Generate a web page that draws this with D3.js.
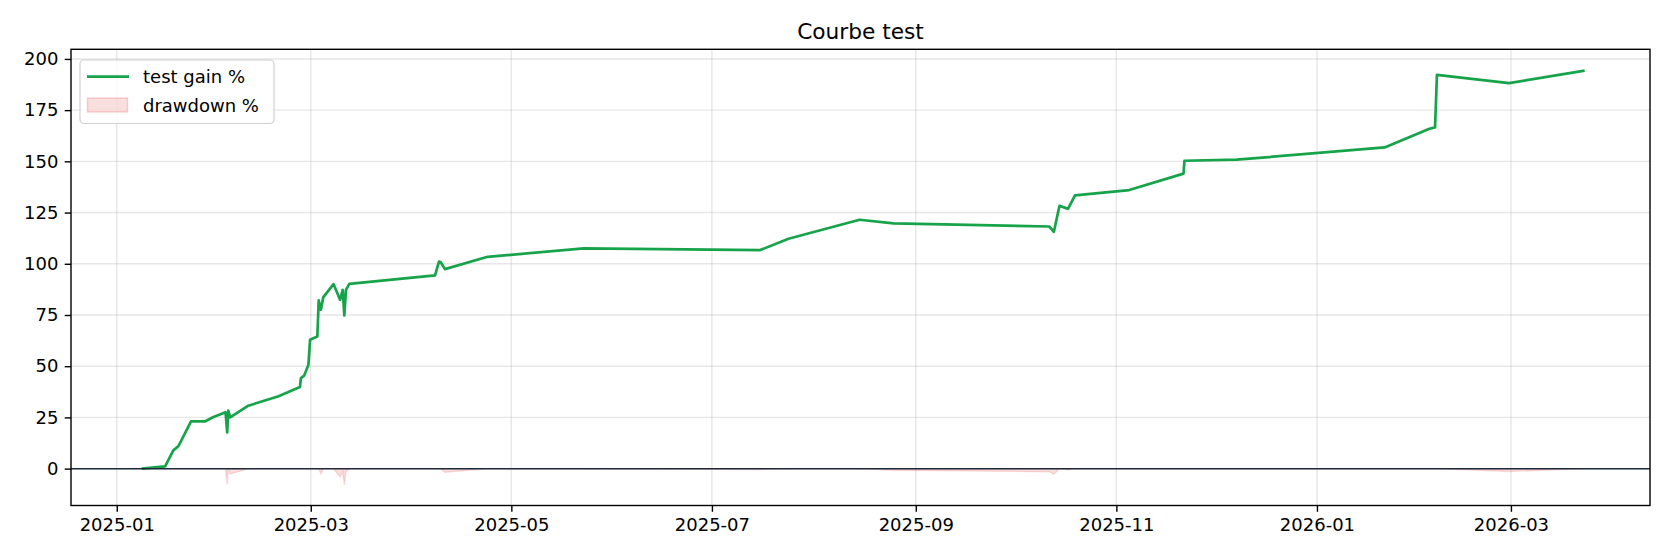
<!DOCTYPE html>
<html lang="fr">
<head>
  <meta charset="UTF-8">
  <title>Courbe test</title>
  <style>body{margin:0;padding:0;background:#fff;} svg{display:block;font-family:"DejaVu Sans",sans-serif;}</style>
  <script src="https://d3js.org/d3.v7.min.js"></script>
</head>
<body>
  <div id="chart"></div>
  <script>
    // trade timestamps
    const dates = [
      "2025-01-08 14:00", "2025-01-15 17:00", "2025-01-18 05:00", "2025-01-19 17:00", "2025-01-20 12:00",
      "2025-01-23 14:00", "2025-01-27 22:00", "2025-01-30 10:00", "2025-02-03 02:00", "2025-02-03 14:00",
      "2025-02-03 22:00", "2025-02-04 12:00", "2025-02-10 00:00", "2025-02-19 05:00", "2025-02-25 17:00",
      "2025-02-26 00:00", "2025-02-27 00:00", "2025-02-28 07:00", "2025-02-28 19:00", "2025-03-03 00:00",
      "2025-03-03 10:00", "2025-03-04 02:00", "2025-03-04 19:00", "2025-03-07 22:00", "2025-03-09 22:00",
      "2025-03-10 17:00", "2025-03-11 05:00", "2025-03-11 17:00", "2025-03-12 17:00", "2025-04-07 19:00",
      "2025-04-09 00:00", "2025-04-09 14:00", "2025-04-10 19:00", "2025-04-23 19:00", "2025-05-23 00:00",
      "2025-07-15 17:00", "2025-07-24 07:00", "2025-08-14 22:00", "2025-08-25 05:00", "2025-10-11 14:00",
      "2025-10-13 00:00", "2025-10-14 17:00", "2025-10-17 07:00", "2025-10-19 10:00", "2025-11-04 22:00",
      "2025-11-21 10:00", "2025-11-21 17:00", "2025-12-07 14:00", "2026-01-21 14:00", "2026-02-04 05:00",
      "2026-02-05 22:00", "2026-02-06 12:00", "2026-02-28 10:00", "2026-03-23 10:00"
    ];
    const gain = [
      0, 1.1, 8.9, 10.9, 13.3,
      23.1, 23.1, 25.2, 27.5, 17.7,
      28.3, 25.0, 30.7, 35.3, 39.8,
      44.2, 45.4, 50.7, 62.9, 64.5,
      82.1, 77.6, 83.6, 90.1, 82.4,
      87.3, 74.8, 87.3, 90.2, 94.3,
      101.1, 100.6, 97.4, 103.4, 107.5,
      106.7, 112.2, 121.5, 119.7, 118.2,
      115.6, 128.3, 126.8, 133.4, 136.0,
      144.0, 150.3, 150.8, 156.8, 165.9,
      166.6, 192.2, 188.2, 194.3
    ];
    const drawdown = [
      0, 0, 0, 0, 0,
      0, 0, 0, 0, -7.7,
      0, -2.6, 0, 0, 0,
      0, 0, 0, 0, 0,
      0, -2.5, 0, 0, -4.1,
      -1.5, -8.0, -1.5, 0, 0,
      0, -0.25, -1.8, 0, 0,
      -0.4, 0, 0, -0.8, -1.5,
      -2.7, 0, -0.7, 0, 0,
      0, 0, 0, 0, 0,
      0, 0, -1.4, 0
    ];
    const yTicks = [0, 25, 50, 75, 100, 125, 150, 175, 200];
    const xTicks = ["2025-01-01", "2025-03-01", "2025-05-01", "2025-07-01", "2025-09-01", "2025-11-01", "2026-01-01", "2026-03-01"];

    const W = 1680, H = 560;
    const mLeft = 71, mRight = 1650, mTop = 49.3, mBottom = 505.5;
    const parse = d3.timeParse("%Y-%m-%d %H:%M");
    const parseDay = d3.timeParse("%Y-%m-%d");
    const rows = dates.map((d, i) => ({ t: parse(d), g: gain[i], dd: drawdown[i] }));

    const x = d3.scaleTime()
      .domain([parse("2024-12-18 02:00"), parse("2026-04-12 07:00")])
      .range([mLeft, mRight]);
    const y = d3.scaleLinear().domain([-18, 204.7]).range([mBottom, mTop]);

    const svg = d3.select("#chart").append("svg").attr("width", W).attr("height", H);

    // grid
    const grid = svg.append("g").attr("stroke", "#b0b0b0").attr("stroke-opacity", 0.3).attr("stroke-width", 1.4);
    xTicks.forEach(s => {
      const px = x(parseDay(s));
      grid.append("line").attr("x1", px).attr("x2", px).attr("y1", mTop).attr("y2", mBottom);
    });
    yTicks.forEach(v => {
      grid.append("line").attr("x1", mLeft).attr("x2", mRight).attr("y1", y(v)).attr("y2", y(v));
    });

    // drawdown fill
    const area = d3.area().x(d => x(d.t)).y0(y(0)).y1(d => y(d.dd));
    svg.append("path").datum(rows)
      .attr("d", area)
      .attr("fill", "#dc2626").attr("fill-opacity", 0.15)
      .attr("stroke", "#dc2626").attr("stroke-opacity", 0.15).attr("stroke-width", 1.4);

    // gain line
    const line = d3.line().x(d => x(d.t)).y(d => y(d.g));
    svg.append("path").datum(rows)
      .attr("d", line)
      .attr("fill", "none").attr("stroke", "#16a34a").attr("stroke-width", 2.7)
      .attr("stroke-linejoin", "round");

    // zero line
    svg.append("line").attr("x1", mLeft).attr("x2", mRight).attr("y1", y(0)).attr("y2", y(0))
      .attr("stroke", "#1e293b").attr("stroke-width", 1.5);

    // axes
    const xAxis = d3.axisBottom(x).tickValues(xTicks.map(parseDay)).tickFormat(d3.timeFormat("%Y-%m"))
      .tickSize(6.3).tickPadding(6.3);
    const yAxis = d3.axisLeft(y).tickValues(yTicks).tickSize(6.3).tickPadding(6.3);
    const gx = svg.append("g").attr("transform", `translate(0,${mBottom})`).call(xAxis);
    const gy = svg.append("g").attr("transform", `translate(${mLeft},0)`).call(yAxis);
    [gx, gy].forEach(g => {
      g.select(".domain").remove();
      g.selectAll("line").attr("stroke", "#000").attr("stroke-width", 1.4);
      g.selectAll("text").attr("fill", "#000").attr("font-size", 18).attr("font-family", "DejaVu Sans");
    });

    // frame
    svg.append("rect").attr("x", mLeft).attr("y", mTop).attr("width", mRight - mLeft).attr("height", mBottom - mTop)
      .attr("fill", "none").attr("stroke", "#000").attr("stroke-width", 1.4);

    // title
    svg.append("text").attr("x", (mLeft + mRight) / 2).attr("y", 38.5).attr("text-anchor", "middle")
      .attr("font-size", 21.7).attr("fill", "#000").text("Courbe test");

    // legend
    const lg = svg.append("g");
    lg.append("rect").attr("x", 80).attr("y", 60).attr("width", 194).attr("height", 63.5).attr("rx", 4)
      .attr("fill", "#fff").attr("fill-opacity", 0.8).attr("stroke", "#d0d0d0").attr("stroke-width", 1.2);
    lg.append("line").attr("x1", 87).attr("x2", 129).attr("y1", 76.7).attr("y2", 76.7)
      .attr("stroke", "#16a34a").attr("stroke-width", 2.7);
    lg.append("rect").attr("x", 87.5).attr("y", 98).attr("width", 40).attr("height", 14)
      .attr("fill", "#dc2626").attr("fill-opacity", 0.15)
      .attr("stroke", "#dc2626").attr("stroke-opacity", 0.2).attr("stroke-width", 1.4);
    lg.append("text").attr("x", 143).attr("y", 83).attr("font-size", 18).text("test gain %");
    lg.append("text").attr("x", 143).attr("y", 111.5).attr("font-size", 18).text("drawdown %");
  </script>
</body>
</html>
